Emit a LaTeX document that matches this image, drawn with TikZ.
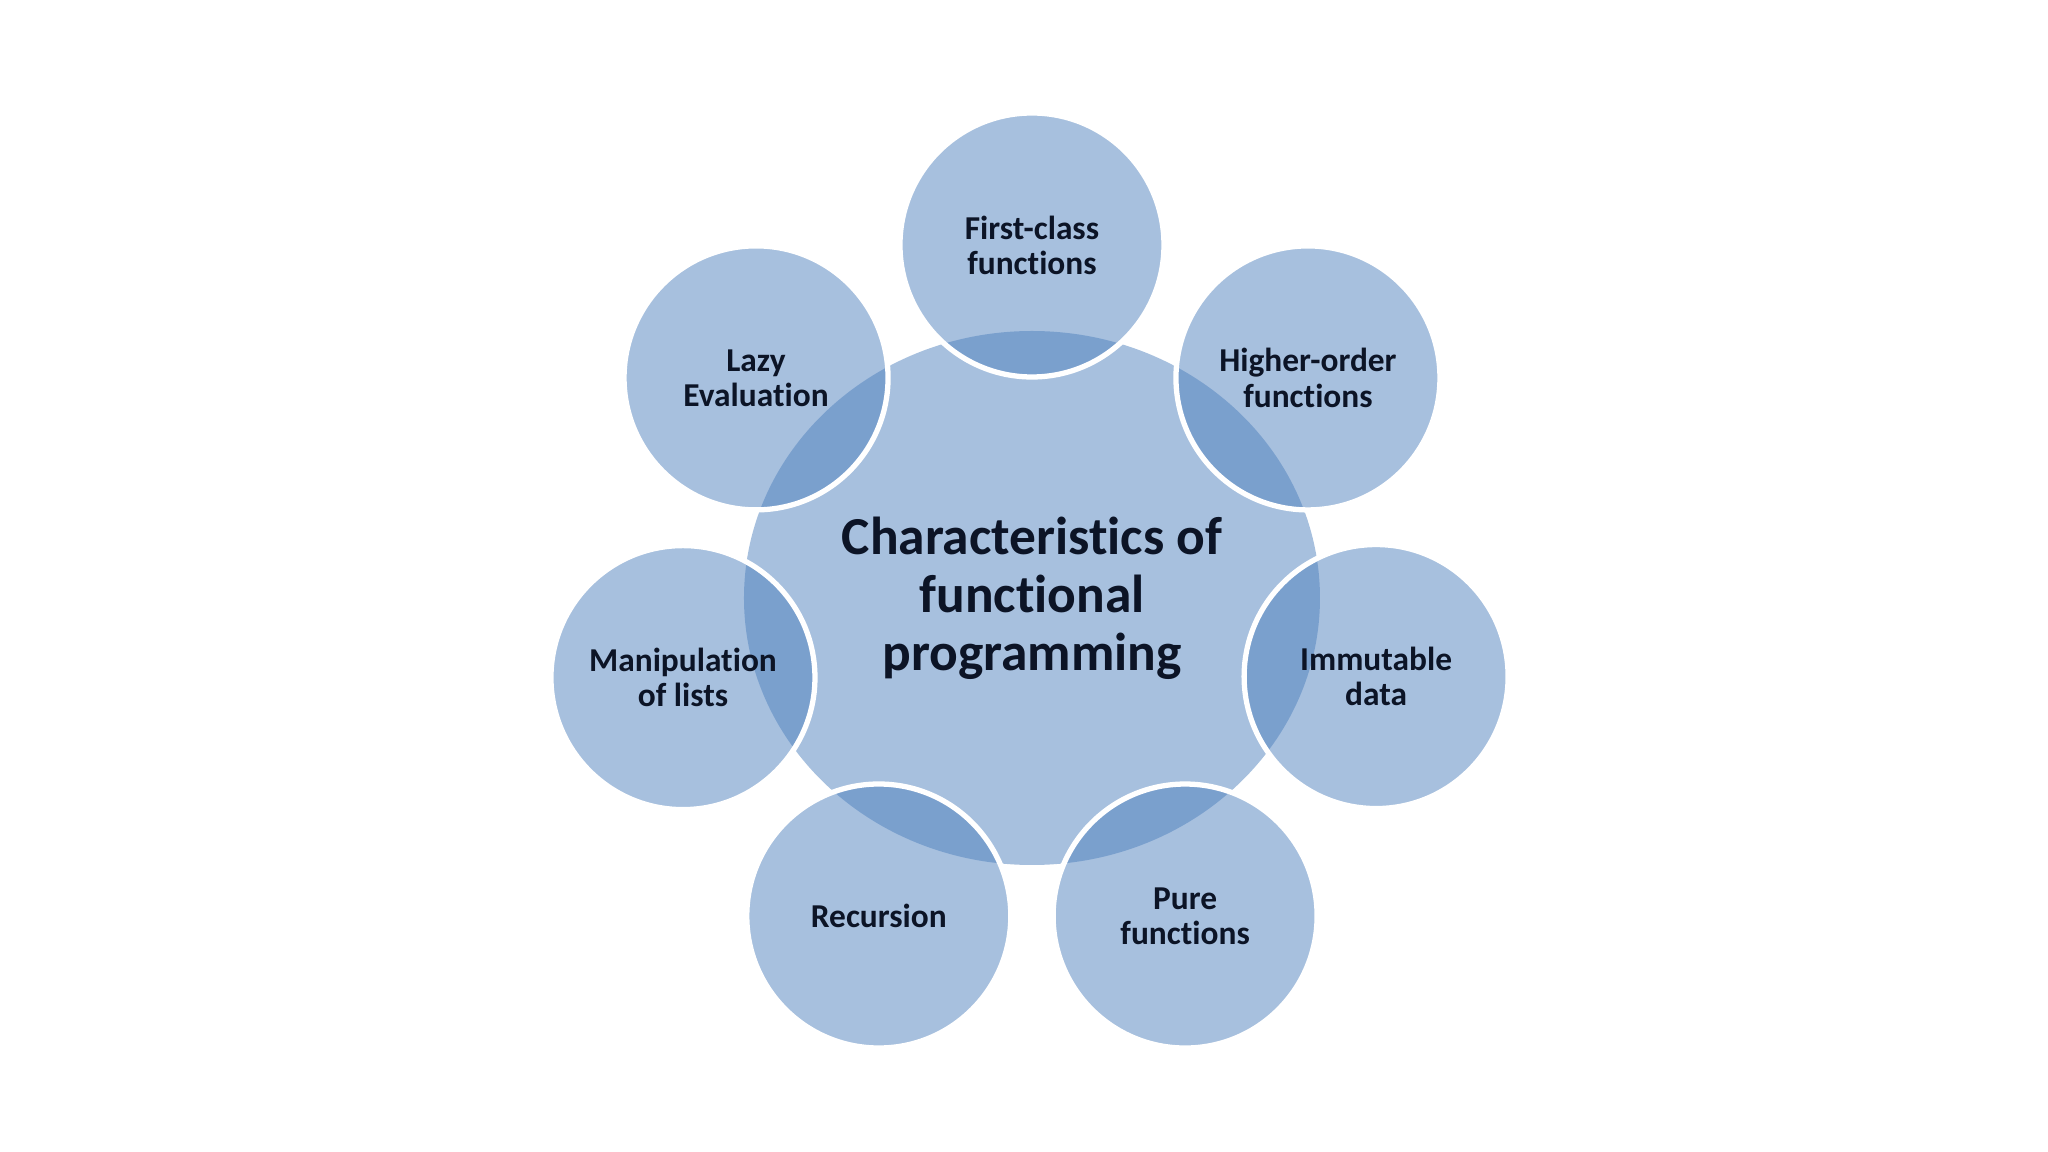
\documentclass[tikz,border=0pt]{standalone}
\usepackage{fontspec}
\setmainfont[Ligatures=NoCommon]{Carlito}
\usetikzlibrary{shapes.geometric}

\begin{document}
\begin{tikzpicture}
  % Colors
  \definecolor{bubblecolor}{RGB}{79,129,189}
  \definecolor{labelcolor}{RGB}{12,20,38}

  % Styles
  \tikzstyle{core}=[ellipse,fill=bubblecolor,fill opacity=0.5,text opacity=1,
    minimum width=5.76cm,minimum height=5.34cm,inner sep=0pt,align=center,
    text=labelcolor,font=\bfseries\fontsize{15.2}{16.5}\selectfont]
  \tikzstyle{feature}=[circle,fill=bubblecolor,fill opacity=0.5,text opacity=1,
    draw=white,line width=1.5pt,minimum size=2.64cm,inner sep=0pt,align=center,
    text=labelcolor,font=\bfseries\fontsize{9.5}{10}\selectfont]

  % The graphic
  \useasboundingbox (-10.32,-5.54) rectangle (10.16,5.98);

  \node[core] (core) at (0,0) {Characteristics of\\functional\\programming};

  \foreach \name/\k/\d/\txt in {first/0/3.53/First-class\\functions,
                                higher/1/3.53/Higher-order\\functions,
                                immutable/2/3.53/Immutable\\data,
                                pure/3/3.53/Pure\\functions,
                                recursion/4/3.53/Recursion,
                                lists/5/3.58/Manipulation\\of lists,
                                lazy/6/3.53/Lazy\\Evaluation}
    \node[feature] (\name) at (90-\k*51.43:\d) {\txt};
\end{tikzpicture}
\end{document}
